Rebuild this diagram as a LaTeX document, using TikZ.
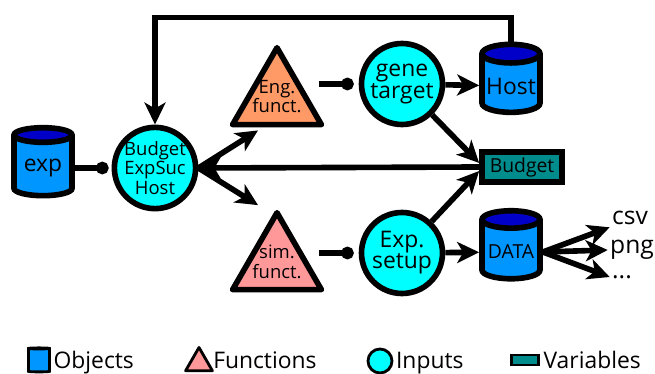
\documentclass[tikz,border=0pt]{standalone}
\usepackage{fontspec}
\setmainfont{Open Sans}
\usetikzlibrary{shapes.geometric,arrows.meta,calc,positioning}
\definecolor{objbody}{HTML}{0096FF}
\definecolor{objtop}{HTML}{0000C8}
\definecolor{engcol}{HTML}{FF9966}
\definecolor{simcol}{HTML}{FF9999}
\definecolor{inpcol}{HTML}{00FFFF}
\definecolor{varcol}{HTML}{008C8C}
% text of a triangle, kept out of the node size
\newcommand{\functext}[2]{\raisebox{-0.1cm}[0pt][0pt]{\makebox[0pt]{\begin{tabular}{@{}c@{}}#1\\#2\end{tabular}}}}

\begin{document}
\begin{tikzpicture}[thick,
    obj/.style={shape=cylinder, shape border rotate=90, aspect=0.35, draw=black, line width=3.2pt,
        cylinder uses custom fill, cylinder body fill=objbody, cylinder end fill=objtop,
        minimum width=1.16cm, minimum height=1.36cm, inner sep=1pt},
    func/.style={shape=regular polygon, regular polygon sides=3, draw=black, line width=3.2pt,
        line join=round, minimum size=2.05cm, inner sep=0pt, font=\fontsize{10.5}{10}\selectfont},
    inp/.style={shape=circle, draw=black, fill=inpcol, line width=3.2pt, minimum size=1.62cm,
        inner sep=0pt, align=center},
    var/.style={shape=rectangle, draw=black, fill=varcol, line width=3.2pt, minimum width=1.6cm,
        minimum height=0.6cm, inner sep=0pt, font=\fontsize{11}{11}\selectfont},
    link/.style={line width=3.2pt, -{Stealth[length=0.44cm,width=0.42cm,inset=0.12cm]}},
    dot/.style={line width=3.2pt, -{Circle[length=0.25cm]}},
    lobj/.style={obj, line width=1.6pt, minimum width=0.42cm, minimum height=0.48cm, aspect=0.3},
    leg/.style={font=\fontsize{13}{13}\selectfont, inner sep=0pt, anchor=base west}]
        \useasboundingbox (0,0) rectangle (13.1,-7.48);

        % objects
        \node (exp) at (0.86,-3.36) [obj, font=\fontsize{13}{13}\selectfont] {exp};
        \node (host) at (10.22,-1.72) [obj, font=\fontsize{13}{13}\selectfont] {Host};
        \node (data) at (10.22,-5.04) [obj, font=\fontsize{11}{11}\selectfont] {DATA};

        % functions
        \node (eng) at (5.54,-1.98) [func, fill=engcol] {\functext{Eng.}{funct.}};
        \node (sim) at (5.54,-5.28) [func, fill=simcol] {\functext{sim.}{funct.}};

        % inputs
        \node (bes) at (3.1,-3.36) [inp, font=\fontsize{10.5}{11}\selectfont] {Budget\\ExpSuc\\Host};
        \node (gene) at (8.04,-1.68) [inp, font=\fontsize{13}{12}\selectfont] {gene\\target};
        \node (setup) at (8.04,-5.06) [inp, font=\fontsize{13}{12}\selectfont] {Exp.\\setup};

        % variables
        \node (budvar) at (10.44,-3.34) [var] {Budget};

        % outputs
        \node (csv) at (12.6,-4.36) [font=\fontsize{14}{14}\selectfont, inner sep=1pt] {csv};
        \node (png) at (12.64,-5.0) [font=\fontsize{14}{14}\selectfont, inner sep=1pt] {png};
        \node (more) at (12.44,-5.54) [font=\fontsize{14}{14}\selectfont, inner sep=1pt] {...};

        % connections
        \coordinate (top) at (3.1,-0.35);
        \draw[link] (host.north) |- (top) -- (bes.north);
        \draw[link] (budvar.west) -- (bes.east);
        \draw[link] (bes.east) -- ([shift={(-0.38,-0.06)}]eng.south);
        \draw[link] (bes.east) -- ([shift={(-0.38,0.04)}]sim.north);
        \draw[dot, shorten >=0.06cm] (exp.east) -- (bes.west);
        \draw[dot, shorten <=0.18cm, shorten >=0.1cm] (eng.east |- gene.west) -- (gene.west);
        \draw[dot, shorten <=0.18cm, shorten >=0.1cm] (sim.east |- setup.west) -- (setup.west);
        \draw[link] (gene) -- (host);
        \draw[link] (gene) -- ([yshift=0.08cm]budvar.west);
        \draw[link] (setup) -- ([yshift=-0.08cm]budvar.west);
        \draw[link] (setup) -- (data);
        \draw[link] (data.east) -- (csv.south west);
        \draw[link] (data.east) -- (png.west);
        \draw[link] (data.east) -- (more.west);

        % legend
        \node (lobj) at (0.78,-7.22) [lobj] {};
        \node (tobj) at ([xshift=0.04cm]lobj.east |- 0,-7.36) [leg] {Objects};
        \node (lfun) at (3.98,-7.26) [func, fill=simcol, line width=1.6pt, minimum size=0.62cm] {};
        \node (tfun) at ([xshift=0.06cm]lfun.east |- tobj.base) [leg] {Functions};
        \node (linp) at (7.6,-7.22) [inp, line width=1.6pt, minimum size=0.48cm] {};
        \node (tinp) at ([xshift=0.04cm]linp.east |- tobj.base) [leg] {Inputs};
        \node (lvar) at (10.5,-7.2) [var, line width=1.6pt, minimum width=0.54cm, minimum height=0.2cm] {};
        \node (tvar) at ([xshift=0.06cm]lvar.east |- tobj.base) [leg] {Variables};
    \end{tikzpicture}
\end{document}
